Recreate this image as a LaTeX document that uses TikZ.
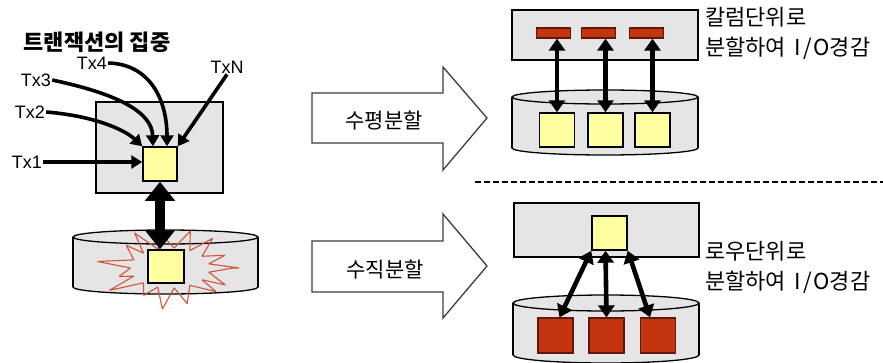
\documentclass[tikz,border=0pt]{standalone}
\usepackage{fontspec}
\setmainfont{Liberation Sans}
\newfontfamily\kr{Noto Sans CJK KR}
\usetikzlibrary{arrows.meta}

\definecolor{boxgray}{RGB}{229,229,229}
\definecolor{softyellow}{RGB}{255,255,160}
\definecolor{brick}{RGB}{196,52,16}
\definecolor{brickline}{RGB}{95,25,10}
\definecolor{burstred}{RGB}{208,84,60}

% drum (cylinder): left x, right x, top centre y, bottom centre y, rim radius
\newcommand\drumshape[5]{%
  \filldraw[drumline] ({(#1+#2)/2},#4) ellipse[x radius={(#2-#1)/2*1pt}, y radius=#5pt];
  \fill[boxgray] (#1,#3) rectangle (#2,#4);
  \draw[drumline] (#1,#3) -- (#1,#4) (#2,#3) -- (#2,#4);
  \filldraw[drumline] ({(#1+#2)/2},#3) ellipse[x radius={(#2-#1)/2*1pt}, y radius=#5pt];
}

\begin{document}
\begin{tikzpicture}[x=1pt,y=-1pt,
  panel/.style={draw=black,line width=1.3pt,fill=boxgray,inner sep=0pt},
  drumline/.style={draw=black,line width=1.3pt,fill=boxgray},
  ysq/.style={draw=black,line width=1.5pt,fill=softyellow,inner sep=0pt,minimum width=35pt,minimum height=34pt},
  rsq/.style={draw=brickline,line width=1.3pt,fill=brick,inner sep=0pt,minimum width=35pt,minimum height=35pt},
  rbar/.style={draw=brickline,line width=1.3pt,fill=brick,inner sep=0pt,minimum width=34pt,minimum height=10pt},
  txlabel/.style={font=\fontsize{18}{20}\selectfont,inner sep=1pt},
  krlabel/.style={font=\kr\fontsize{21}{24}\selectfont,inner sep=0pt},
  note/.style={font=\kr\fontsize{22}{30}\selectfont,inner sep=0pt,anchor=west,align=left},
  tx/.style={line width=3.6pt,-{Triangle[length=11pt,width=13pt]}},
  dbl/.style={line width=4.6pt,{Triangle[length=12pt,width=16pt]}-{Triangle[length=12pt,width=16pt]}},
  bigdbl/.style={line width=10pt,{Triangle[length=19pt,width=29pt]}-{Triangle[length=19pt,width=29pt]}},
  blockarrow/.style={draw={rgb,255:red,60;green,60;blue,60},line width=1.3pt,fill=white,line join=miter},
  sep/.style={line width=2.8pt,dash pattern=on 6pt off 3pt}
]
\useasboundingbox (0,0) rectangle (883,362);

% ---------- left: concentrated transactions ----------
\node[font=\kr\bfseries\fontsize{22}{24}\selectfont] (title) at (97,42) {트랜잭션의 집중};

\node[panel,minimum width=127pt,minimum height=91pt] (lbox) at (159.5,147.5) {};
\node[ysq,minimum width=34pt] (lsq) at (160,164) {};

\node[txlabel] (t1) at (27,162) {Tx1};
\node[txlabel] (t2) at (30,112) {Tx2};
\node[txlabel] (t3) at (36,80) {Tx3};
\node[txlabel] (t4) at (92,63) {Tx4};
\node[txlabel] (tn) at (227,67) {TxN};

\draw[tx] (t1.east) -- (lsq.west |- t1.east);
\draw[tx] (t2.east) .. controls (95,116) and (125,130) .. (lsq.north west);
\draw[tx] (t3.east) .. controls (118,94) and (152,112) .. ([xshift=-7pt]lsq.north);
\draw[tx] (t4.east) .. controls (150,64) and (167,100) .. ([xshift=7pt]lsq.north);
\draw[tx] (tn.south) -- (lsq.north east);

% drum with the overloaded block
\drumshape{73}{258}{237}{287}{7}
\draw[burstred,line width=1.1pt,line join=bevel]
  plot[samples=31,domain=0:30,variable=\t]
  ({170+(mod(round(\t),2)==0 ? (0.88+0.16*sin(\t*97)) : 0.55)*72*cos(\t*12)},
   {268+(mod(round(\t),2)==0 ? (0.92+0.14*sin(\t*61)) : 0.5)*40*sin(\t*12)}) -- cycle;
\node[ysq,minimum width=36pt,minimum height=33pt] (lbsq) at (166,266.5) {};

\draw[bigdbl] (lsq.south) -- (lsq.south |- lbsq.north);

% ---------- middle: partitioning arrows ----------
\draw[blockarrow] (312,93) -- (443,93) -- (443,67) -- (487,118) -- (443,170) -- (443,143) -- (312,143) -- cycle;
\node[krlabel] (hsplit) at (384,121) {수평분할};

\draw[blockarrow] (312,241) -- (443,241) -- (443,214) -- (487,266) -- (443,318) -- (443,292) -- (312,292) -- cycle;
\node[krlabel] (vsplit) at (385,270) {수직분할};

% separator
\coordinate (sepL) at (475,182);
\coordinate (sepR) at (883,182);
\draw[sep] (sepL) -- (sepR);

% ---------- right top: column partitioning ----------
\node[panel,minimum width=186pt,minimum height=50pt] (cbox) at (605,35) {};
\node[rbar] (bar1) at (553.5,33) {};
\node[rbar] (bar2) at (598.5,33) {};
\node[rbar] (bar3) at (646.5,33) {};

\drumshape{512}{698}{97}{148}{7}
\node[ysq] (c1) at (557,130) {};
\node[ysq] (c2) at (605.5,130) {};
\node[ysq] (c3) at (652.5,130) {};

\draw[dbl] (c1.north |- bar1.south) -- (c1.north);
\draw[dbl] (c2.north |- bar2.south) -- (c2.north);
\draw[dbl] (c3.north |- bar3.south) -- (c3.north);

\node[note] (cnote) at (705,33) {칼럼단위로\\분할하여\hspace{0.4em}I\hspace{0.08em}/\hspace{0.08em}O경감};

% ---------- right bottom: row partitioning ----------
\node[panel,minimum width=185pt,minimum height=54pt] (rbox) at (606.5,230) {};
\node[ysq] (rsq) at (609.5,233) {};

\drumshape{513}{699}{303}{355}{8}
\node[rsq] (r1) at (555.5,335.5) {};
\node[rsq] (r2) at (606.5,335.5) {};
\node[rsq] (r3) at (658,335.5) {};

\draw[dbl] (rsq.south west) -- ([xshift=4pt]r1.north);
\draw[dbl] ([xshift=-4pt]rsq.south) -- (r2.north);
\draw[dbl] (rsq.south east) -- ([xshift=-8pt]r3.north);

\node[note] (rnote) at (705,267) {로우단위로\\분할하여\hspace{0.4em}I\hspace{0.08em}/\hspace{0.08em}O경감};
\end{tikzpicture}
\end{document}
